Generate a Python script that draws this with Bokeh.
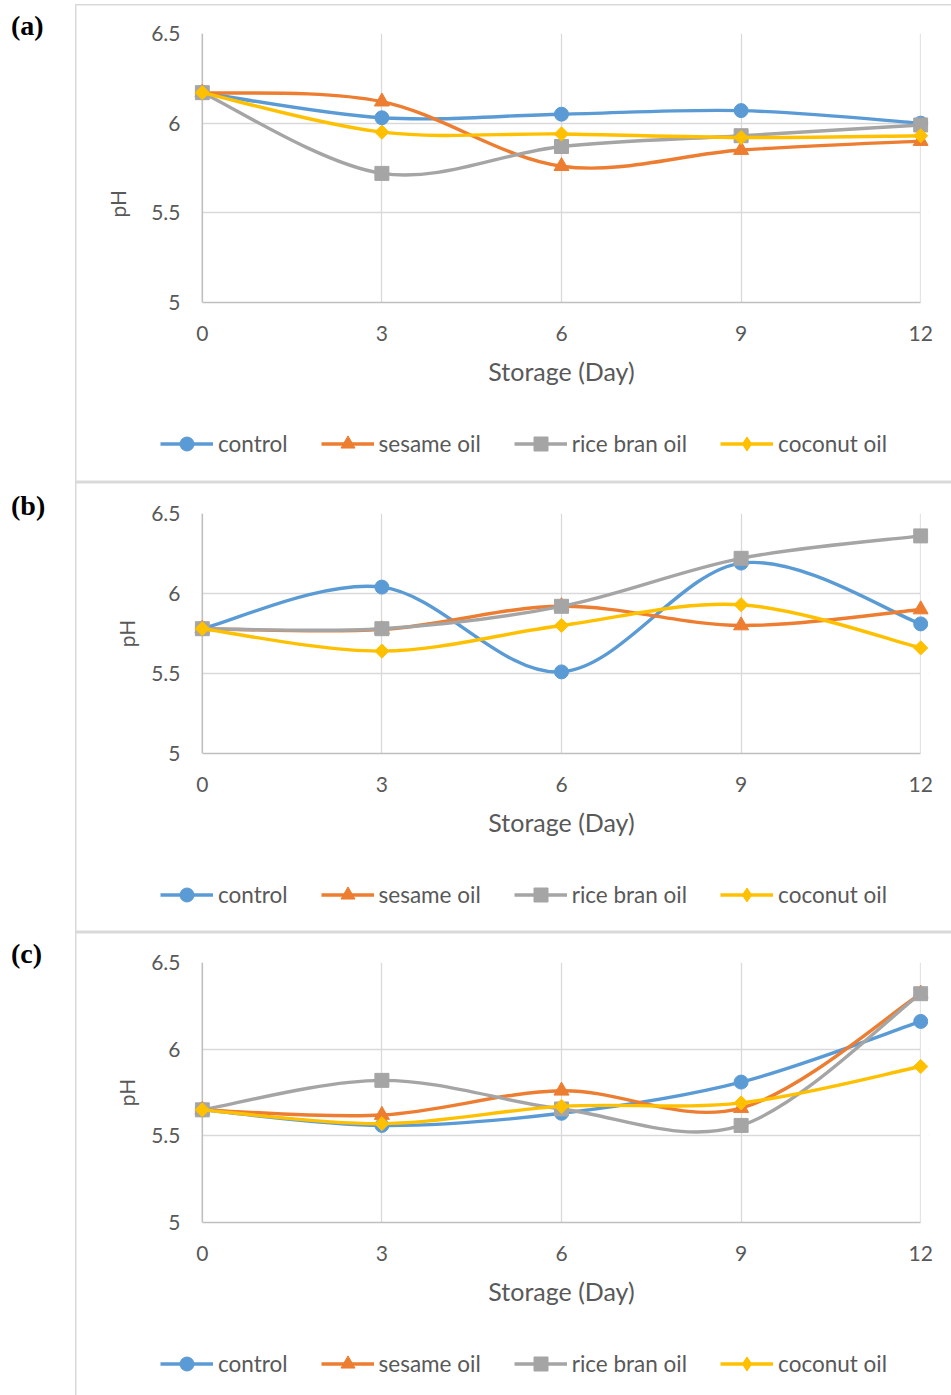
import math
from bokeh.plotting import figure
from bokeh.models import (Range1d, FixedTicker, Legend, LegendItem, Span,
                          BoxAnnotation, ColumnDataSource, Div, Spacer, Title)
from bokeh.layouts import column, row
from bokeh.embed import file_html
from bokeh.resources import INLINE

# ---------------- data ----------------
days = [0, 3, 6, 9, 12]
x_ticks = [0, 3, 6, 9, 12]
x_tick_labels = ["0", "3", "6", "9", "12"]
y_ticks = [5, 5.5, 6, 6.5]
y_tick_labels = ["5", "5.5", "6", "6.5"]
series_names = ["control", "sesame oil", "rice bran oil", "coconut oil"]

a_control = [6.17, 6.03, 6.05, 6.07, 6.00]
a_sesame = [6.17, 6.12, 5.76, 5.85, 5.90]
a_ricebran = [6.17, 5.72, 5.87, 5.93, 5.99]
a_coconut = [6.17, 5.95, 5.94, 5.92, 5.93]

b_control = [5.78, 6.04, 5.51, 6.19, 5.81]
b_sesame = [5.78, 5.775, 5.92, 5.80, 5.90]
b_ricebran = [5.78, 5.78, 5.92, 6.22, 6.36]
b_coconut = [5.78, 5.64, 5.80, 5.93, 5.66]

c_control = [5.65, 5.56, 5.63, 5.81, 6.16]
c_sesame = [5.65, 5.62, 5.76, 5.66, 6.32]
c_ricebran = [5.65, 5.82, 5.655, 5.56, 6.32]
c_coconut = [5.65, 5.57, 5.67, 5.69, 5.90]

# ---------------- style ----------------
COLORS = ["#5B9BD5", "#ED7D31", "#A5A5A5", "#FFC000"]
MARKERS = ["circle", "triangle", "square", "square"]
ANGLES = [0, 0, 0, math.pi / 4]
SIZES = [14, 15, 14, 10]
LEGEND_MARKERS = ["circle", "triangle", "square", "diamond"]
TXT = "#595959"
GRID = "#D9D9D9"
AXIS = "#BFBFBF"
FONT = "Lato"
PAD = 0.13
BOX = "#D9D9D9"
FIG_W = 876
LW = 3.4


def bezier_cols(xs, ys):
    n = len(xs)
    d = {k: [] for k in ["x0", "y0", "x1", "y1", "cx0", "cy0", "cx1", "cy1"]}
    for i in range(n - 1):
        im = max(i - 1, 0)
        ip2 = min(i + 2, n - 1)
        d["x0"].append(xs[i]); d["y0"].append(ys[i])
        d["x1"].append(xs[i + 1]); d["y1"].append(ys[i + 1])
        d["cx0"].append(xs[i] + (xs[i + 1] - xs[im]) / 6)
        d["cy0"].append(ys[i] + (ys[i + 1] - ys[im]) / 6)
        d["cx1"].append(xs[i + 1] - (xs[ip2] - xs[i]) / 6)
        d["cy1"].append(ys[i + 1] - (ys[ip2] - ys[i]) / 6)
    return d


def shadow(sides):
    s = []
    if "l" in sides:
        s.append(f"inset 1.5px 0 0 {BOX}")
    if "t" in sides:
        s.append(f"inset 0 1.5px 0 {BOX}")
    if "b" in sides:
        s.append(f"inset 0 -1.5px 0 {BOX}")
    return {"box-shadow": ", ".join(s)} if s else {}


def make_panel(tag, series, chart_h, btop, leg_h, leg_vy, sides_chart,
               sides_leg, tag_top, ph_standoff, ph_offset=None):
    p = figure(width=FIG_W, height=chart_h,
               x_range=Range1d(-PAD, 12 + PAD), y_range=Range1d(5, 6.5),
               output_backend="svg", toolbar_location=None,
               min_border_left=119, min_border_right=23,
               min_border_top=btop, min_border_bottom=98,
               styles=shadow(sides_chart))
    p.outline_line_color = None
    p.background_fill_color = "white"
    p.border_fill_color = None
    p.frame_align = False

    xa = p.xaxis[0]
    ya = p.yaxis[0]
    xa.ticker = FixedTicker(ticks=x_ticks)
    xa.major_label_overrides = dict(zip(x_ticks, x_tick_labels))
    ya.ticker = FixedTicker(ticks=y_ticks)
    ya.major_label_overrides = dict(zip(y_ticks, y_tick_labels))
    for ax in (xa, ya):
        ax.major_tick_line_color = None
        ax.minor_tick_line_color = None
        ax.major_label_text_font = FONT
        ax.major_label_text_font_size = "21px"
        ax.major_label_text_color = TXT
        ax.axis_label_text_font = FONT
        ax.axis_label_text_font_style = "normal"
        ax.axis_label_text_color = TXT
    xa.axis_line_color = AXIS
    xa.axis_line_width = 1.5
    xa.bounds = (0, 12)
    xa.major_label_standoff = 17
    xa.axis_label = "Storage (Day)"
    xa.axis_label_text_font_size = "25px"
    xa.axis_label_standoff = 12
    ya.axis_line_color = None
    ya.major_label_standoff = 8
    if ph_offset is None:
        ya.axis_label = "pH"
        ya.axis_label_text_font_size = "21px"
        ya.axis_label_standoff = ph_standoff
    else:
        p.add_layout(Title(text="pH", align="left", offset=ph_offset,
                           standoff=ph_standoff, text_font=FONT,
                           text_font_size="21px", text_color=TXT,
                           text_font_style="normal"), "left")

    p.xgrid.ticker = FixedTicker(ticks=x_ticks)
    p.ygrid.ticker = FixedTicker(ticks=y_ticks)
    for g in (p.xgrid[0], p.ygrid[0]):
        g.grid_line_color = GRID
        g.grid_line_width = 1.3

    # hide grid overshoot in the marker padding strips
    p.add_layout(BoxAnnotation(right=0, fill_color="white", fill_alpha=1,
                               line_color=None, level="underlay"))
    p.add_layout(BoxAnnotation(left=12, fill_color="white", fill_alpha=1,
                               line_color=None, level="underlay"))
    p.add_layout(Span(location=0, dimension="height", line_color=AXIS,
                      line_width=1.5, level="underlay"))

    # legend strip: its own figure, legend keys drawn from hidden renderers
    lf = figure(width=FIG_W, height=leg_h, x_range=Range1d(0, 1),
                y_range=Range1d(0, 1), output_backend="svg",
                toolbar_location=None, x_axis_location=None,
                y_axis_location=None, min_border=0,
                styles=shadow(sides_leg))
    lf.outline_line_color = None
    lf.grid.visible = False
    lf.background_fill_color = None
    lf.border_fill_color = None
    lf.frame_align = False

    items = []
    for name, ys, col, mk, ang, sz, lmk in zip(series_names, series, COLORS,
                                               MARKERS, ANGLES, SIZES,
                                               LEGEND_MARKERS):
        src = ColumnDataSource(bezier_cols(days, ys))
        p.bezier(x0="x0", y0="y0", x1="x1", y1="y1", cx0="cx0", cy0="cy0",
                 cx1="cx1", cy1="cy1", source=src, line_color=col,
                 line_width=LW)
        p.scatter(days, ys, marker=mk, angle=ang, size=sz, fill_color=col,
                  line_color=col)
        lr = lf.line(days, ys, line_color=col, line_width=LW, visible=False)
        mr = lf.scatter(days, ys, marker=lmk, fill_color=col,
                        line_color=col, visible=False)
        items.append(LegendItem(label=name, renderers=[lr, mr]))

    legend = Legend(items=items, orientation="horizontal",
                    location=(85, leg_vy), glyph_width=53, glyph_height=35,
                    label_standoff=5, spacing=33, padding=0, margin=0,
                    border_line_color=None, background_fill_alpha=0,
                    label_text_font=FONT, label_text_font_size="22.5px",
                    label_text_color=TXT)
    lf.add_layout(legend)

    div = Div(text=(f'<div style="margin-top:{tag_top}px;margin-left:11px;'
                    'font-family:\'Liberation Serif\',serif;font-weight:bold;'
                    f'font-size:28px;line-height:28px;color:#000">{tag}</div>'),
              width=75, height=chart_h + leg_h, margin=0)
    return row(div, column(p, lf, spacing=0), spacing=0)


ra = make_panel("(a)", [a_control, a_sesame, a_ricebran, a_coconut],
                396, 29, 82, 21.5, "lt", "lb", 8, 37, ph_offset=85)
rb = make_panel("(b)", [b_control, b_sesame, b_ricebran, b_coconut],
                369, 31, 81, 20.5, "lt", "lb", 10, 9)
rc = make_panel("(c)", [c_control, c_sesame, c_ricebran, c_coconut],
                388, 30, 75, 14.5, "lt", "l", 8, 9)

layout = column(Spacer(height=4), ra, rb, rc, spacing=0)
open("out.html", "w").write(file_html(layout, INLINE))
